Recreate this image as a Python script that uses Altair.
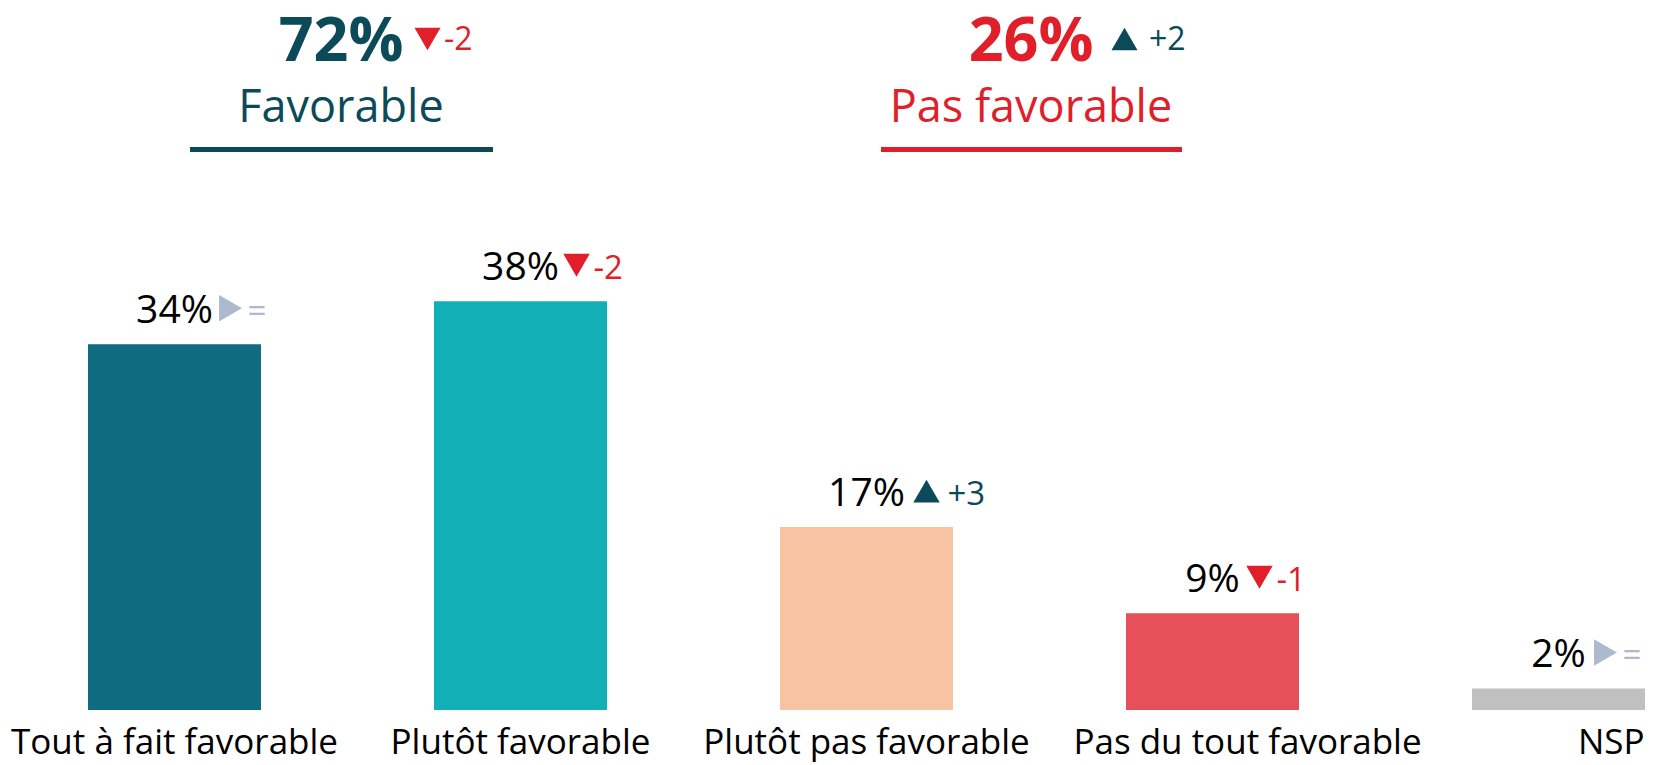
import altair as alt
import pandas as pd

# ---- data ----
categories = ["Tout à fait favorable", "Plutôt favorable", "Plutôt pas favorable",
              "Pas du tout favorable", "NSP"]
values = [34, 38, 17, 9, 2]
deltas = ["=", "-2", "+3", "-1", "="]
trends = ["flat", "down", "up", "down", "flat"]
bar_colors = ["#0f6b80", "#13afb7", "#f7c3a3", "#e65058", "#c0c0c0"]

header_totals = ["72%", "26%"]
header_labels = ["Favorable", "Pas favorable"]
header_deltas = ["-2", "+2"]

TEAL = "#0b4a58"
RED = "#e01f2a"
GREY = "#adb9cc"
FONT = "Open Sans"
HALF_BAND = 86.5

df = pd.DataFrame({"cat": categories, "value": values, "delta": deltas, "trend": trends})

x = alt.X("cat:N", sort=categories,
          scale=alt.Scale(paddingInner=0.5, paddingOuter=0),
          axis=alt.Axis(title=None, domain=False, ticks=False, labelAngle=0,
                        labelFontSize=35, labelFont=FONT, labelColor="#000000",
                        labelPadding=15, labelLimit=0,
                        labelAlign={"condition": {"test": "datum.label == 'NSP'", "value": "right"}, "value": "center"},
                        labelOffset={"condition": [
                            {"test": "datum.label == 'NSP'", "value": 86},
                            {"test": "datum.label == 'Pas du tout favorable'", "value": 35}],
                            "value": 0}))
y = alt.Y("value:Q", scale=alt.Scale(domain=[0, 66]), axis=None)

trend_color = alt.Color("trend:N", scale=alt.Scale(domain=["flat", "down", "up"], range=[GREY, RED, TEAL]), legend=None)
trend_shape = alt.Shape("trend:N", scale=alt.Scale(domain=["flat", "down", "up"],
                                                   range=["triangle-right", "triangle-down", "triangle-up"]), legend=None)

base = alt.Chart(df).transform_calculate(
    pct="datum.value + '%'",
    extra="datum.trend == 'up' ? 4 : 0",
).transform_calculate(
    tri_dx=f"{HALF_BAND} + 38 + 9 * length(toString(datum.value)) + datum.extra",
    del_dx=f"{HALF_BAND} + 55 + 9 * length(toString(datum.value)) + 2 * datum.extra",
)

bars = base.mark_bar().encode(
    x=x, y=y,
    color=alt.Color("cat:N", scale=alt.Scale(domain=categories, range=bar_colors), legend=None),
)

pct_text = base.mark_text(font=FONT, fontSize=39, color="#000000", align="center",
                          baseline="alphabetic", dy=-21).encode(x=x, y=y, text="pct:N")

tri = base.mark_point(filled=True, size=700, opacity=1, strokeWidth=0, yOffset=-36).encode(
    x=x, y=y, xOffset=alt.XOffset("tri_dx:Q", scale=None),
    color=trend_color, shape=trend_shape,
)

delta_text = base.mark_text(font=FONT, fontSize=33, align="left", baseline="alphabetic", dy=-22).encode(
    x=x, y=y, xOffset=alt.XOffset("del_dx:Q", scale=None),
    text="delta:N", color=trend_color,
)

# ---- headers (annotation layout in pixels, plot origin at left padding 88) ----
hdr = alt.Chart(pd.DataFrame({"k": [0]}))

def header(cx, total, label, delta, main_col, delta_col, shape, tri_x, delta_x, rx1, rx2):
    t1 = hdr.mark_text(font=FONT, fontSize=61, fontWeight="bold", color=main_col, align="center",
                       baseline="alphabetic").encode(x=alt.value(cx), y=alt.value(61), text=alt.value(total))
    t2 = hdr.mark_text(font=FONT, fontSize=45, color=main_col, align="center",
                       baseline="alphabetic").encode(x=alt.value(cx), y=alt.value(122), text=alt.value(label))
    tr = hdr.mark_point(filled=True, size=680, opacity=1, strokeWidth=0, color=delta_col, shape=shape).encode(
        x=alt.value(tri_x), y=alt.value(39))
    t3 = hdr.mark_text(font=FONT, fontSize=32, color=delta_col, align="left",
                       baseline="alphabetic").encode(x=alt.value(delta_x), y=alt.value(50), text=alt.value(delta))
    rl = hdr.mark_rule(strokeWidth=5, color=main_col).encode(
        x=alt.value(rx1), x2=alt.value(rx2), y=alt.value(149.5))
    return [t1, t2, tr, t3, rl]

layers = [bars, pct_text, tri, delta_text]
layers += header(253, header_totals[0], header_labels[0], header_deltas[0], TEAL, RED,
                 "triangle-down", 339.5, 356, 102, 405)
layers += header(943, header_totals[1], header_labels[1], header_deltas[1], RED, TEAL,
                 "triangle-up", 1036.5, 1061, 793, 1094)

chart = alt.layer(*layers).resolve_scale(color="independent", shape="independent").properties(
    width=1557, height=710,
    autosize=alt.AutoSizeParams(type="none"),
    padding={"left": 88, "right": 20, "top": 0, "bottom": 55},
    background="white",
).configure_view(stroke=None)

chart.save("out.html", embed_options={"renderer": "svg", "actions": False})
